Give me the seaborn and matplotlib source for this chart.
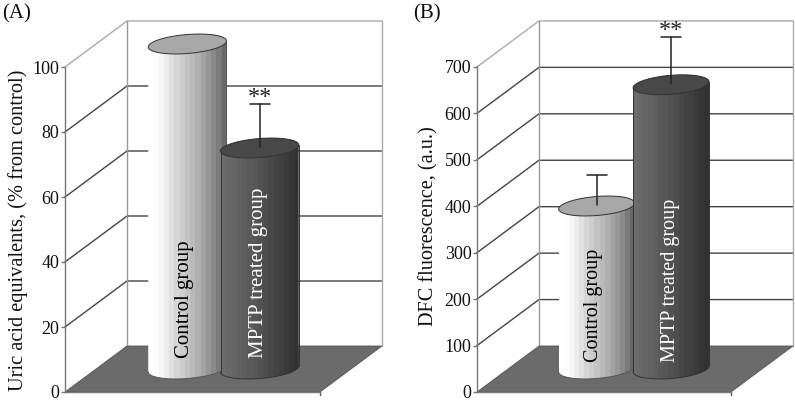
import numpy as np
import pandas as pd
import matplotlib
matplotlib.use('Agg')
import matplotlib.pyplot as plt
import seaborn as sns
from matplotlib.path import Path
from matplotlib.patches import PathPatch, Polygon

# values
groups = ['Control group', 'MPTP treated group']
uric_acid = [100, 68]
uric_acid_top = [np.nan, 81.5]
dfc = [351, 612]
dfc_top = [418, 715]
uric_ticks = [0, 20, 40, 60, 80, 100]
dfc_ticks = [0, 100, 200, 300, 400, 500, 600, 700]

W, H = 795, 403

sns.set_theme(style='white')
plt.rcParams['font.family'] = ['Liberation Serif', 'DejaVu Serif']

fig = plt.figure(figsize=(W / 100, H / 100), dpi=100)

# grey ramps for the cylinders, left to right
ramps = [([0, .12, .35, .65, .9, 1], [255, 250, 215, 175, 130, 105]),
         ([0, .4, .8, 1], [108, 88, 62, 50])]
caps = ['#a8a8a8', '#484848']
text_cols = ['black', 'white']
text_shift = [-3, -1]


def cyl(cx, a, y, b, k, n=60):
    # sheared half ellipse from right to left
    t = np.linspace(0, np.pi, n)
    return cx + a * np.cos(t), y + b * np.sin(t) + k * np.cos(t)


def panel(box, values, tops, ticks, ylim, xlim, bar_w, ylabel, lab_x, lab_y,
          lab_size, txt_size, txt_px, stars):
    left, right, top, bottom = box
    ax = fig.add_axes([left / W, 1 - bottom / H, (right - left) / W, (bottom - top) / H])
    df = pd.DataFrame({'group': groups, 'value': values})
    sns.barplot(data=df, x='group', y='value', width=bar_w, ax=ax, errorbar=None)
    bars = list(ax.patches)
    ax.set_xlim(*xlim)
    ax.set_ylim(*ylim)
    ax.patch.set_alpha(0)

    # pixels to data units
    sx = (xlim[1] - xlim[0]) / (right - left)
    sy = (ylim[1] - ylim[0]) / (bottom - top)
    wx, wy = 62 * sx, 46 * sy
    mx, my = 31 * sx, 23 * sy

    # walls and floor
    x0, x1 = xlim
    ax.add_patch(Polygon([[x0, 0], [x1, 0], [x1 + wx, wy], [x0 + wx, wy]], fc='#6b6b6b',
                         ec='#555555', lw=.6, clip_on=False, zorder=1))
    ax.plot([x1, x1], [0, -3 * sy], color='#555555', lw=1, clip_on=False, zorder=.5)
    for i, v in enumerate(ticks):
        if v == 0:
            continue
        c = '#aaaaaa' if v == ticks[-1] else '#444444'
        ax.plot([x0, x0 + wx, x1 + wx], [v, v + wy, v + wy], color=c, lw=1, clip_on=False, zorder=.6)
    ax.plot([x0 + wx, x0 + wx], [wy, ticks[-1] + wy], color='#999999', lw=1, clip_on=False, zorder=.6)
    ax.plot([x1 + wx, x1 + wx], [wy, ticks[-1] + wy], color='#aaaaaa', lw=1, clip_on=False, zorder=.6)

    # cylinders from the bars seaborn drew
    for i, bar in enumerate(bars):
        bar.set_visible(False)
        a = bar.get_width() / 2
        cx = bar.get_x() + a + mx
        val = bar.get_height()
        b, k = 9.5 * sy, 3 * sy
        z = 3 + i
        xt, yt = cyl(cx, a, my + val, b, k)
        xb, yb = cyl(cx, a, my, -b, k)
        body = np.vstack([np.column_stack([xb, yb]), np.column_stack([xt[::-1], yt[::-1]])])
        outline = PathPatch(Path(body, closed=True), transform=ax.transData, fc='none', ec='none')
        ax.add_patch(outline)
        outline.set_clip_on(False)
        bands = np.linspace(0, 1, 15)
        ramp = np.interp(bands, ramps[i][0], ramps[i][1])[None, :]
        im = ax.imshow(ramp, cmap='gray', vmin=0, vmax=255, aspect='auto', interpolation='nearest',
                       extent=[cx - a, cx + a, my - 2 * b, my + val + 2 * b], zorder=z)
        im.set_clip_box(fig.bbox)
        im.set_clip_path(outline)
        ec = '#333333' if i else '#555555'
        ax.plot(xb, yb, color=ec, lw=.7, clip_on=False, zorder=z + .1)
        ax.plot([cx + a, cx + a], [my + k, my + val + k], color=ec, lw=.7, clip_on=False, zorder=z + .1)
        if i:
            ax.plot([cx - a, cx - a], [my - k, my + val - k], color=ec, lw=.7, clip_on=False, zorder=z + .1)
        t = np.linspace(0, 2 * np.pi, 80)
        cap = np.column_stack([cx + a * np.cos(t), my + val + b * np.sin(t) + k * np.cos(t)])
        ax.add_patch(Polygon(cap, fc=caps[i], ec='#333333', lw=.7, clip_on=False, zorder=z + .2))
        if not np.isnan(tops[i]):
            ax.plot([cx, cx], [my + val + 1 * sy, my + tops[i]], color='#222222', lw=1.1, clip_on=False, zorder=z + .3)
            ax.plot([cx - 10 * sx, cx + 10 * sx], [my + tops[i]] * 2, color='#222222', lw=1.1, clip_on=False, zorder=z + .3)
        ax.text(cx + text_shift[i] * sx, my + 7 * sy + txt_px * sy, groups[i], rotation=90, ha='center', va='bottom',
                fontsize=txt_size, color=text_cols[i], zorder=z + .5)
        if stars[i]:
            ax.text(cx, my + tops[i] - 4 * sy, '**', ha='center', va='bottom', fontsize=17.5, color='#222222',
                    linespacing=1, zorder=z + .5)

    for s in ['top', 'right']:
        ax.spines[s].set_visible(False)
    for s in ['left', 'bottom']:
        ax.spines[s].set_color('#777777')
        ax.spines[s].set_linewidth(1)
    ax.set_xticks([])
    ax.set_xlabel('')
    ax.set_yticks(ticks)
    ax.tick_params(axis='y', left=True, length=3, width=1, color='#777777', pad=1, labelsize=13, labelcolor='#111111')
    ax.set_ylabel(ylabel, fontsize=lab_size, color='#111111')
    ax.yaxis.set_label_coords((lab_x - left) / (right - left), (bottom - lab_y) / (bottom - top))
    return ax


panel((65, 320, 67, 392), uric_acid, uric_acid_top, uric_ticks, (0, 100), (-1.264, 2.264), 1.083,
      'Uric acid equivalents, (% from control)', 28, 230, 14.7, 15, 4, [False, True])
panel((477, 731, 66, 392), dfc, dfc_top, dfc_ticks, (0, 702), (-1.19, 2.22), 1.02,
      'DFC fluorescence, (a.u.)', 438, 226, 14.6, 14.5, 0, [False, True])

fig.text(2 / W, 1 - 18 / H, '(A)', fontsize=15, color='#111111')
fig.text(413 / W, 1 - 18 / H, '(B)', fontsize=15, color='#111111')

fig.savefig('out.png', dpi=100)
